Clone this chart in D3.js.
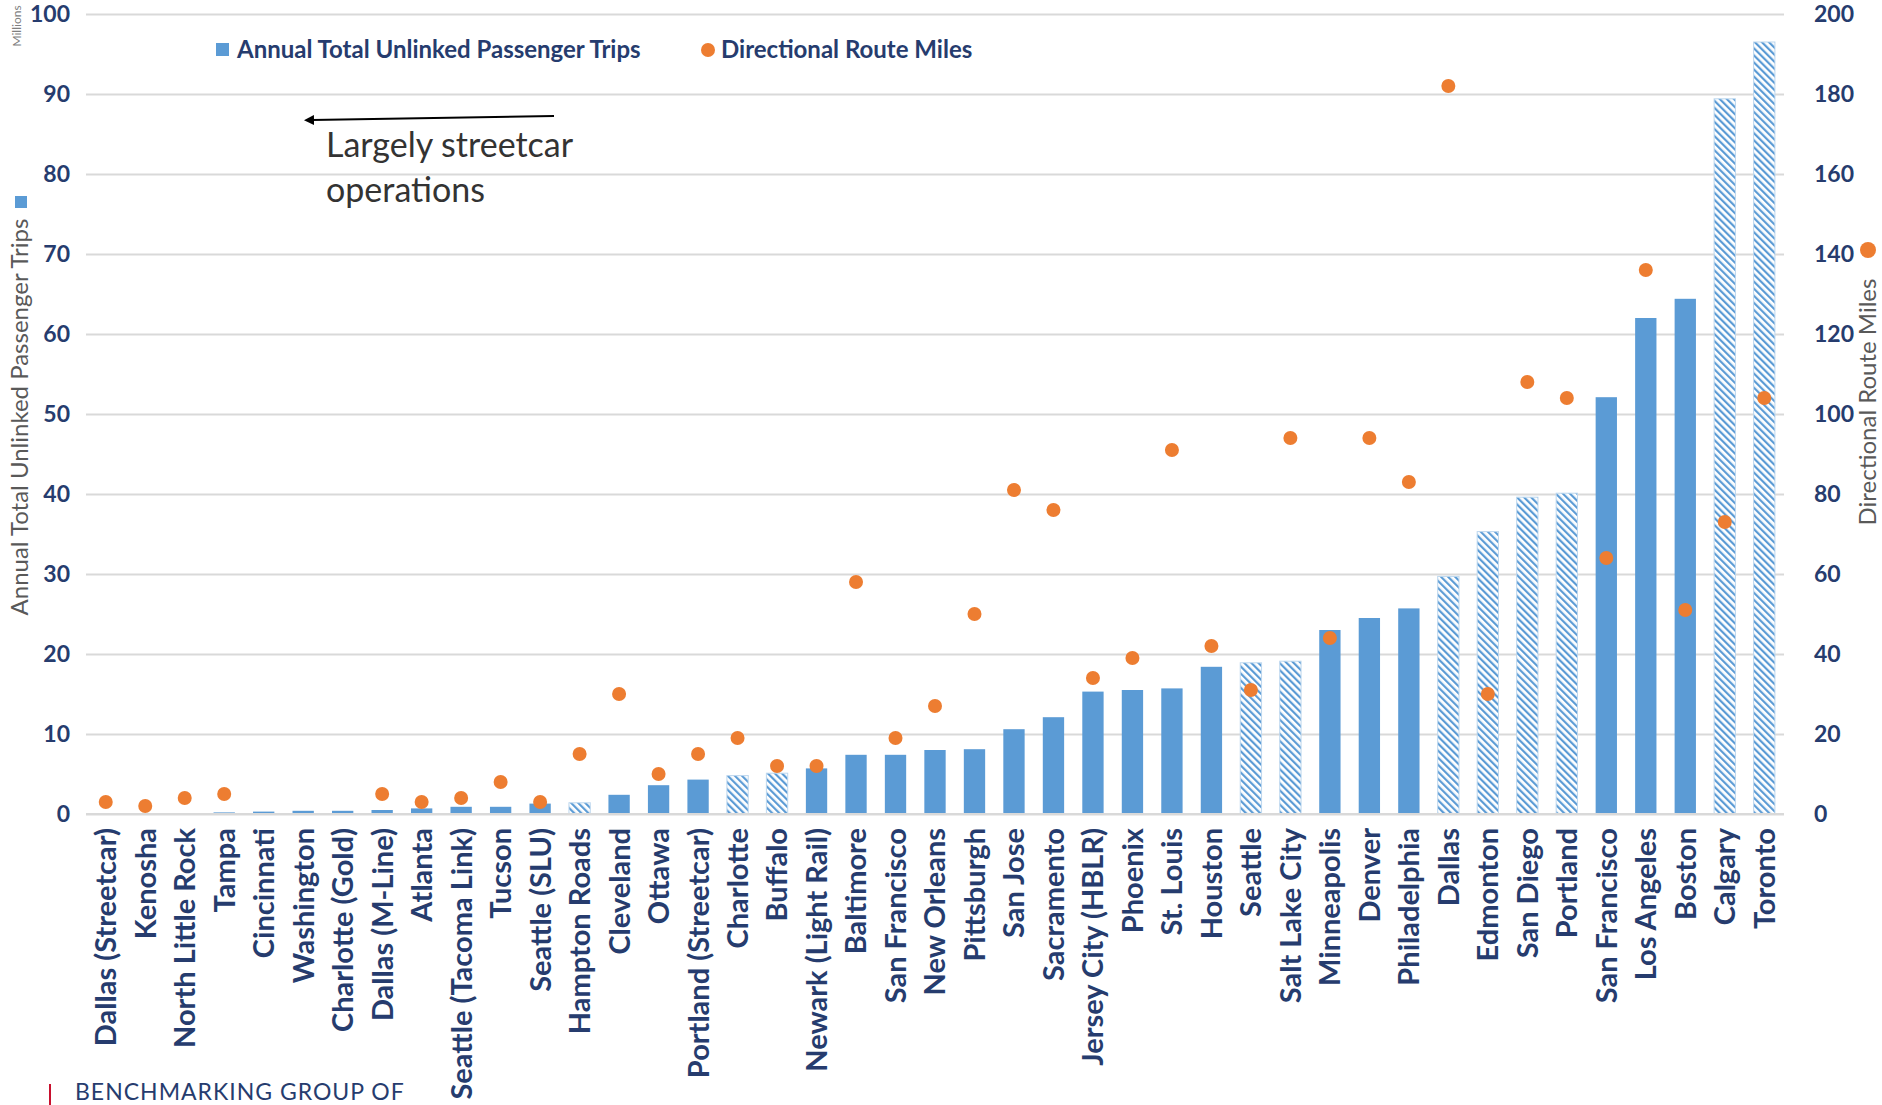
<!DOCTYPE html>
<html>
<head>
<meta charset="utf-8">
<script src="https://cdn.jsdelivr.net/npm/d3@7"></script>
<style>
  body { margin: 0; background: #fff; }
  svg { display: block; font-family: Lato, "Open Sans", sans-serif; }
</style>
</head>
<body>
<div id="chart"></div>
<script>
// Categories, left to right
const categories = [
  "Dallas (Streetcar)", "Kenosha", "North Little Rock", "Tampa", "Cincinnati",
  "Washington", "Charlotte (Gold)", "Dallas (M-Line)", "Atlanta", "Seattle (Tacoma Link)",
  "Tucson", "Seattle (SLU)", "Hampton Roads", "Cleveland", "Ottawa",
  "Portland (Streetcar)", "Charlotte", "Buffalo", "Newark (Light Rail)", "Baltimore",
  "San Francisco", "New Orleans", "Pittsburgh", "San Jose", "Sacramento",
  "Jersey City (HBLR)", "Phoenix", "St. Louis", "Houston", "Seattle",
  "Salt Lake City", "Minneapolis", "Denver", "Philadelphia", "Dallas",
  "Edmonton", "San Diego", "Portland", "San Francisco", "Los Angeles",
  "Boston", "Calgary", "Toronto"
];

// Annual total unlinked passenger trips (millions)
const trips = [
  0, 0, 0, 0.2, 0.3,
  0.4, 0.4, 0.5, 0.7, 0.9,
  0.9, 1.3, 1.4, 2.4, 3.6,
  4.3, 4.8, 5.1, 5.7, 7.4,
  7.4, 8.0, 8.1, 10.6, 12.1,
  15.3, 15.5, 15.7, 18.4, 18.9,
  19.1, 23.0, 24.5, 25.7, 29.7,
  35.3, 39.6, 40.1, 52.1, 62.0,
  64.4, 89.4, 96.5
];

// Directional route miles (null = no marker)
const routeMiles = [
  3, 2, 4, 5, null,
  null, null, 5, 3, 4,
  8, 3, 15, 30, 10,
  15, 19, 12, 12, 58,
  19, 27, 50, 81, 76,
  34, 39, 91, 42, 31,
  94, 44, 94, 83, 182,
  30, 108, 104, 64, 136,
  51, 73, 104
];

// Bars drawn with the hatch pattern
const hatched = [
  false, false, false, false, false,
  false, false, false, false, false,
  false, false, true, false, false,
  false, true, true, false, false,
  false, false, false, false, false,
  false, false, false, false, true,
  true, false, false, false, true,
  true, true, true, false, false,
  false, true, true
];

const leftTicks = [0, 10, 20, 30, 40, 50, 60, 70, 80, 90, 100];
const rightTicks = [0, 20, 40, 60, 80, 100, 120, 140, 160, 180, 200];

const data = categories.map((c, i) => ({
  i: i, city: c, trips: trips[i], miles: routeMiles[i], hatched: hatched[i]
}));

// Layout
const W = 1882, H = 1105;
const plot = { left: 86, right: 1784, top: 14, bottom: 814 };

const blue = "#5B9BD5";
const orange = "#ED7D31";
const navy = "#263C6E";
const grey = "#595959";

const svg = d3.select("#chart").append("svg")
  .attr("width", W)
  .attr("height", H);

svg.append("rect").attr("width", W).attr("height", H).attr("fill", "#fff");

// hatch pattern
const defs = svg.append("defs");
const pat = defs.append("pattern")
  .attr("id", "hatch")
  .attr("patternUnits", "userSpaceOnUse")
  .attr("width", 5)
  .attr("height", 5)
  .attr("patternTransform", "rotate(-45)");
pat.append("rect").attr("width", 5).attr("height", 5).attr("fill", "#fff");
pat.append("rect").attr("width", 2.2).attr("height", 5).attr("fill", blue);

defs.append("marker")
  .attr("id", "arrow")
  .attr("viewBox", "0 0 10 10")
  .attr("refX", 2)
  .attr("refY", 5)
  .attr("markerWidth", 5)
  .attr("markerHeight", 5)
  .attr("orient", "auto-start-reverse")
  .append("path")
  .attr("d", "M0,0 L10,5 L0,10 z")
  .attr("fill", "#000");

// Scales
const x = d3.scaleBand()
  .domain(d3.range(categories.length))
  .range([plot.left, plot.right])
  .paddingInner(0.46)
  .paddingOuter(0.23);

const yLeft = d3.scaleLinear().domain([0, 100]).range([plot.bottom, plot.top]);
const yRight = d3.scaleLinear().domain([0, 200]).range([plot.bottom, plot.top]);

// Left axis with gridlines
const leftAxis = svg.append("g")
  .attr("transform", `translate(${plot.left},0)`)
  .call(d3.axisLeft(yLeft).tickValues(leftTicks).tickSize(-(plot.right - plot.left)).tickPadding(16));
leftAxis.select(".domain").remove();
leftAxis.selectAll("line").attr("stroke", "#D9D9D9").attr("stroke-width", 2);
leftAxis.selectAll("text")
  .attr("fill", navy)
  .style("font-size", "23px")
  .style("font-weight", "bold")
  .style("font-family", "Lato, sans-serif");

// Right axis
const rightAxis = svg.append("g")
  .attr("transform", `translate(${plot.right},0)`)
  .call(d3.axisRight(yRight).tickValues(rightTicks).tickSize(0).tickPadding(30));
rightAxis.select(".domain").remove();
rightAxis.selectAll("text")
  .attr("fill", navy)
  .style("font-size", "23px")
  .style("font-weight", "bold")
  .style("font-family", "Lato, sans-serif");

// Bars
svg.append("g").selectAll("rect")
  .data(data)
  .join("rect")
  .attr("x", d => x(d.i))
  .attr("y", d => yLeft(d.trips))
  .attr("width", x.bandwidth())
  .attr("height", d => plot.bottom - yLeft(d.trips))
  .attr("fill", d => d.hatched ? "url(#hatch)" : blue)
  .attr("stroke", d => d.hatched ? "#BDD7EE" : "none")
  .attr("stroke-width", 1);

// baseline
svg.append("line")
  .attr("x1", plot.left).attr("x2", plot.right)
  .attr("y1", plot.bottom).attr("y2", plot.bottom)
  .attr("stroke", "#D9D9D9").attr("stroke-width", 2);

// Dots
svg.append("g").selectAll("circle")
  .data(data.filter(d => d.miles !== null))
  .join("circle")
  .attr("cx", d => x(d.i) + x.bandwidth() / 2)
  .attr("cy", d => yRight(d.miles))
  .attr("r", 7)
  .attr("fill", orange);

// X axis labels
const xAxis = svg.append("g")
  .attr("transform", `translate(0,${plot.bottom})`)
  .call(d3.axisBottom(x).tickSize(0).tickFormat(i => categories[i]));
xAxis.select(".domain").remove();
xAxis.selectAll("text")
  .attr("transform", "rotate(-90)")
  .attr("x", -14)
  .attr("y", 0)
  .attr("dy", "0.36em")
  .style("text-anchor", "end")
  .attr("fill", navy)
  .style("font-size", "29px")
  .style("font-weight", "bold")
  .style("font-family", "Lato, sans-serif");

// Axis titles
svg.append("text")
  .attr("transform", "translate(28,417) rotate(-90)")
  .attr("text-anchor", "middle")
  .attr("fill", grey)
  .style("font-size", "24px")
  .text("Annual Total Unlinked Passenger Trips");
svg.append("rect")
  .attr("x", 15).attr("y", 196).attr("width", 12).attr("height", 12)
  .attr("fill", blue);

svg.append("text")
  .attr("transform", "translate(1876,402) rotate(-90)")
  .attr("text-anchor", "middle")
  .attr("fill", grey)
  .style("font-size", "24px")
  .text("Directional Route Miles");
svg.append("circle")
  .attr("cx", 1868).attr("cy", 250).attr("r", 8)
  .attr("fill", orange);

svg.append("text")
  .attr("transform", "translate(21,26) rotate(-90)")
  .attr("text-anchor", "middle")
  .attr("fill", "#7F7F7F")
  .style("font-size", "12px")
  .text("Millions");

// Legend
const legend = svg.append("g").attr("transform", "translate(216,50)");
legend.append("rect").attr("x", 0).attr("y", -7).attr("width", 13).attr("height", 13).attr("fill", blue);
legend.append("text").attr("x", 21).attr("y", 0).attr("dy", "0.35em")
  .attr("fill", navy).style("font-size", "24px").style("font-weight", "bold")
  .text("Annual Total Unlinked Passenger Trips");
legend.append("circle").attr("cx", 492).attr("cy", 0).attr("r", 7).attr("fill", orange);
legend.append("text").attr("x", 505).attr("y", 0).attr("dy", "0.35em")
  .attr("fill", navy).style("font-size", "24px").style("font-weight", "bold")
  .text("Directional Route Miles");

// Annotation
svg.append("line")
  .attr("x1", 554).attr("y1", 116)
  .attr("x2", 312).attr("y2", 120)
  .attr("stroke", "#000").attr("stroke-width", 2)
  .attr("marker-end", "url(#arrow)");
const note = svg.append("text")
  .attr("fill", "#333")
  .style("font-size", "34px");
note.append("tspan").attr("x", 326).attr("y", 157).text("Largely streetcar");
note.append("tspan").attr("x", 326).attr("y", 202).text("operations");

// Footer
svg.append("rect").attr("x", 49).attr("y", 1084).attr("width", 2).attr("height", 21).attr("fill", "#C8102E");
svg.append("text")
  .attr("x", 75).attr("y", 1100)
  .attr("fill", navy)
  .style("font-size", "23px")
  .style("letter-spacing", "1px")
  .text("BENCHMARKING GROUP OF");
</script>
</body>
</html>
